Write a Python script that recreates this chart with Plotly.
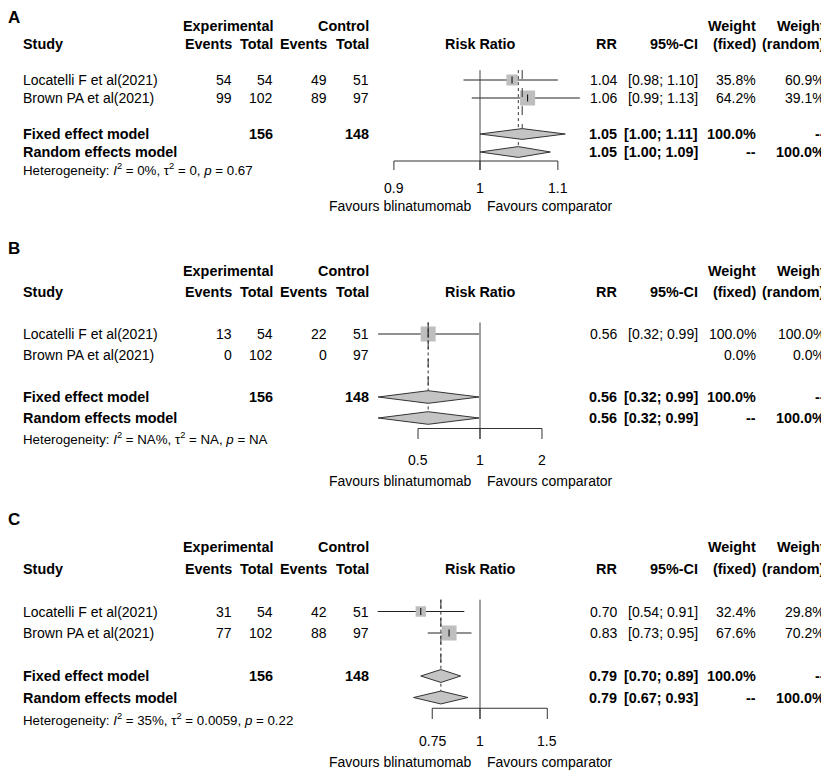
import math
import plotly.graph_objects as go

W, H = 829, 773
OFF = 8                      # page body margin that the browser puts round the figure
FW, FH = W - OFF, H - OFF
FONT = "Arial, Liberation Sans, sans-serif"

# shared study info
studies = ["Locatelli F et al(2021)", "Brown PA et al(2021)"]
exp_total = [54, 102]
ctrl_total = [51, 97]

# panel A
a_exp_events = [54, 99]
a_ctrl_events = [49, 89]
a_rr = [1.04, 1.06]
a_lo = [0.98, 0.99]
a_hi = [1.10, 1.13]
a_w_fixed = [35.8, 64.2]
a_w_random = [60.9, 39.1]
a_fixed = [1.053, 1.00, 1.11]
a_random = [1.048, 1.00, 1.09]
a_het = ["0%", "0", "0.67"]
a_ticks = [0.9, 1, 1.1]

# panel B
b_exp_events = [13, 0]
b_ctrl_events = [22, 0]
b_rr = [0.56, None]
b_lo = [0.32, None]
b_hi = [0.99, None]
b_w_fixed = [100.0, 0.0]
b_w_random = [100.0, 0.0]
b_fixed = [0.56, 0.32, 0.99]
b_random = [0.56, 0.32, 0.99]
b_het = ["NA%", "NA", "NA"]
b_ticks = [0.5, 1, 2]

# panel C
c_exp_events = [31, 77]
c_ctrl_events = [42, 88]
c_rr = [0.70, 0.83]
c_lo = [0.54, 0.73]
c_hi = [0.91, 0.95]
c_w_fixed = [32.4, 67.6]
c_w_random = [29.8, 70.2]
c_fixed = [0.79, 0.70, 0.89]
c_random = [0.79, 0.67, 0.93]
c_het = ["35%", "0.0059", "0.22"]
c_ticks = [0.75, 1, 1.5]

panels = [
    dict(letter="A", ev_e=a_exp_events, ev_c=a_ctrl_events, rr=a_rr, lo=a_lo, hi=a_hi,
         wf=a_w_fixed, wr=a_w_random, fe=a_fixed, re=a_random, het=a_het, ticks=a_ticks,
         top=26, sp=18, scale=817, letter_y=14),
    dict(letter="B", ev_e=b_exp_events, ev_c=b_ctrl_events, rr=b_rr, lo=b_lo, hi=b_hi,
         wf=b_w_fixed, wr=b_w_random, fe=b_fixed, re=b_random, het=b_het, ticks=b_ticks,
         top=271, sp=21, scale=89.4, letter_y=247),
    dict(letter="C", ev_e=c_exp_events, ev_c=c_ctrl_events, rr=c_rr, lo=c_lo, hi=c_hi,
         wf=c_w_fixed, wr=c_w_random, fe=c_fixed, re=c_random, het=c_het, ticks=c_ticks,
         top=547, sp=21.5, scale=166, letter_y=518),
]

# column positions (px in the page, right edges unless noted)
COL_STUDY = 23
COL_EXP_EV, COL_EXP_TOT, COL_CTRL_EV, COL_CTRL_TOT = 232, 273, 327, 369
COL_RR, COL_CI, COL_WF, COL_WR = 617, 698, 756, 825
NULL_PX = 480
PLOT_X0, PLOT_X1 = 330, 600
R0, R1 = -0.9, 10.5


def px_x(px):
    return (px - OFF) / FW


def px_y(py):
    return 1 - (py - OFF) / FH


fig = go.Figure()


def txt(s, px, row, ya, anchor="right", bold=False, size=14):
    fig.add_annotation(x=px_x(px), y=row, xref="paper", yref=ya,
                       text=f"<b>{s}</b>" if bold else s, xanchor=anchor, yanchor="middle",
                       showarrow=False, borderpad=0, borderwidth=0,
                       font=dict(size=size + (0.4 if bold else 0), family=FONT, color="black"))


def line(x, y, xa, ya, color="black", dash="solid", width=1):
    fig.add_trace(go.Scatter(x=x, y=y, xaxis=xa, yaxis=ya, mode="lines", hoverinfo="skip",
                             line=dict(color=color, width=width, dash=dash), showlegend=False))


def ci_text(lo, hi):
    return f"[{lo:.2f}; {hi:.2f}]"


for n, p in enumerate(panels, start=1):
    sfx = "" if n == 1 else str(n)
    xa, ya = "x" + sfx, "y" + sfx

    # axes: log x scaled so that RR = 1 sits at NULL_PX, rows on y
    lo10 = (PLOT_X0 - NULL_PX) / p["scale"] / math.log(10)
    hi10 = (PLOT_X1 - NULL_PX) / p["scale"] / math.log(10)
    y_top_px = p["top"] + R0 * p["sp"]
    y_bot_px = p["top"] + R1 * p["sp"]
    fig.update_layout(**{
        "xaxis" + sfx: dict(type="log", range=[lo10, hi10], domain=[px_x(PLOT_X0), px_x(PLOT_X1)],
                            visible=False, anchor=ya),
        "yaxis" + sfx: dict(range=[R1, R0], domain=[px_y(y_bot_px), px_y(y_top_px)],
                            visible=False, anchor=xa),
    })

    # panel letter (kept inside the figure)
    fig.add_annotation(x=0, y=min(1, px_y(p["letter_y"] - 8)), xref="paper", yref="paper",
                       text=f"<b>{p['letter']}</b>", xanchor="left", yanchor="top",
                       showarrow=False, borderpad=0, borderwidth=0,
                       font=dict(size=17, family=FONT, color="black"))

    # headers
    txt("Experimental", COL_EXP_TOT, 0, ya, bold=True)
    txt("Control", COL_CTRL_TOT, 0, ya, bold=True)
    txt("Weight", COL_WF, 0, ya, bold=True)
    txt("Weight", COL_WR, 0, ya, bold=True)
    txt("Study", COL_STUDY, 1, ya, anchor="left", bold=True)
    txt("Events", COL_EXP_EV, 1, ya, bold=True)
    txt("Total", COL_EXP_TOT, 1, ya, bold=True)
    txt("Events", COL_CTRL_EV, 1, ya, bold=True)
    txt("Total", COL_CTRL_TOT, 1, ya, bold=True)
    txt("Risk Ratio", NULL_PX, 1, ya, anchor="center", bold=True)
    txt("RR", COL_RR, 1, ya, bold=True)
    txt("95%-CI", COL_CI, 1, ya, bold=True)
    txt("(fixed)", COL_WF, 1, ya, bold=True)
    txt("(random)", COL_WR, 1, ya, bold=True)

    # study rows
    wmax = max(p["wf"])
    for i, name in enumerate(studies):
        row = 3 + i
        txt(name, COL_STUDY, row, ya, anchor="left")
        txt(str(p["ev_e"][i]), COL_EXP_EV, row, ya)
        txt(str(exp_total[i]), COL_EXP_TOT, row, ya)
        txt(str(p["ev_c"][i]), COL_CTRL_EV, row, ya)
        txt(str(ctrl_total[i]), COL_CTRL_TOT, row, ya)
        txt(f"{p['wf'][i]:.1f}%", COL_WF, row, ya)
        txt(f"{p['wr'][i]:.1f}%", COL_WR, row, ya)
        if p["rr"][i] is None:
            continue
        txt(f"{p['rr'][i]:.2f}", COL_RR, row, ya)
        txt(ci_text(p["lo"][i], p["hi"][i]), COL_CI, row, ya)
        line([p["lo"][i], p["hi"][i]], [row, row], xa, ya, color="#222")
        size = 15 * math.sqrt(p["wf"][i] / wmax)
        fig.add_trace(go.Scatter(x=[p["rr"][i]], y=[row], xaxis=xa, yaxis=ya, mode="markers",
                                 marker=dict(symbol="square", size=size, color="#BEBEBE",
                                             line=dict(width=0)),
                                 hoverinfo="skip", showlegend=False))
        fig.add_trace(go.Scatter(x=[p["rr"][i]], y=[row], xaxis=xa, yaxis=ya, mode="markers",
                                 marker=dict(symbol="line-ns", size=5,
                                             line=dict(width=1, color="black")),
                                 hoverinfo="skip", showlegend=False))

    # pooled rows
    fe, re = p["fe"], p["re"]
    txt("Fixed effect model", COL_STUDY, 6, ya, anchor="left", bold=True)
    txt(str(sum(exp_total)), COL_EXP_TOT, 6, ya, bold=True)
    txt(str(sum(ctrl_total)), COL_CTRL_TOT, 6, ya, bold=True)
    txt(f"{fe[0]:.2f}", COL_RR, 6, ya, bold=True)
    txt(ci_text(fe[1], fe[2]), COL_CI, 6, ya, bold=True)
    txt("100.0%", COL_WF, 6, ya, bold=True)
    txt("--", COL_WR, 6, ya, bold=True)
    txt("Random effects model", COL_STUDY, 7, ya, anchor="left", bold=True)
    txt(f"{re[0]:.2f}", COL_RR, 7, ya, bold=True)
    txt(ci_text(re[1], re[2]), COL_CI, 7, ya, bold=True)
    txt("--", COL_WF, 7, ya, bold=True)
    txt("100.0%", COL_WR, 7, ya, bold=True)

    i2, tau2, pv = p["het"]
    txt(f"Heterogeneity: <i>I</i><sup>2</sup> = {i2}, τ<sup>2</sup> = {tau2}, <i>p</i> = {pv}",
        COL_STUDY, 8, ya, anchor="left", size=13.3)

    # reference lines
    line([1, 1], [2.45, 8.0], xa, ya, color="#444")
    line([fe[0], fe[0]], [2.45, 6 - 0.3], xa, ya, color="#333", dash="dash")
    line([re[0], re[0]], [2.45, 7 - 0.3], xa, ya, color="#333", dash="dot")

    # diamonds
    for est, row in ((fe, 6), (re, 7)):
        fig.add_trace(go.Scatter(x=[est[1], est[0], est[2], est[0], est[1]],
                                 y=[row, row - 0.3, row, row + 0.3, row],
                                 xaxis=xa, yaxis=ya, mode="lines", fill="toself",
                                 fillcolor="#C4C4C4", line=dict(color="#333", width=1),
                                 hoverinfo="skip", showlegend=False))

    # x axis drawn R-style
    t = p["ticks"]
    line([min(t), max(t)], [7.5, 7.5], xa, ya, color="#333")
    for v in t:
        line([v, v], [7.5, 8.0], xa, ya, color="#333")
        # annotations on a log axis take log10 of the value
        fig.add_annotation(x=math.log10(v), y=9, xref=xa, yref=ya, text=f"{v:g}",
                           xanchor="center", yanchor="middle", showarrow=False, borderpad=0,
                           font=dict(size=14, family=FONT, color="black"))
    fig.add_annotation(x=0, y=10, xref=xa, yref=ya, text="Favours blinatumomab",
                       xanchor="right", yanchor="middle", xshift=-7, showarrow=False,
                       borderpad=0, font=dict(size=14, family=FONT, color="black"))
    fig.add_annotation(x=0, y=10, xref=xa, yref=ya, text="Favours comparator",
                       xanchor="left", yanchor="middle", xshift=6, showarrow=False,
                       borderpad=0, font=dict(size=14, family=FONT, color="black"))

fig.update_layout(width=FW, height=FH, margin=dict(l=0, r=0, t=0, b=0),
                  paper_bgcolor="white", plot_bgcolor="rgba(0,0,0,0)",
                  font=dict(family=FONT, color="black"), showlegend=False)

fig.write_html("out.html")
